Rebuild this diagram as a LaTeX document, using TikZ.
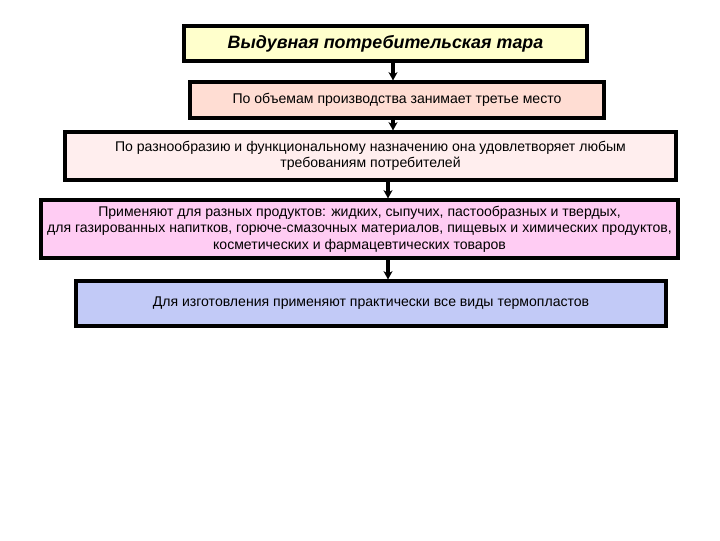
\documentclass[tikz,border=0pt]{standalone}
\usepackage{fontspec}
\setmainfont{Liberation Sans}
\usetikzlibrary{arrows.meta}

\definecolor{titleyellow}{HTML}{FFFFCC}
\definecolor{peach}{HTML}{FFDDD3}
\definecolor{palepink}{HTML}{FFEEEE}
\definecolor{lilac}{HTML}{FFCCF3}
\definecolor{periwinkle}{HTML}{C2CAF7}

\begin{document}
\begin{tikzpicture}[x=0.025cm,y=-0.025cm,->,>={Stealth[length=6pt,width=6.5pt]},
                    line width=2.2pt]
  \tikzset{box/.style={draw=black,line width=2.2pt,align=center,inner sep=0pt,
                       font=\fontsize{10}{11.7}\selectfont}}
	\useasboundingbox (0,0) rectangle (720,540);

	\node[box,fill=titleyellow,minimum width=403*0.025cm,minimum height=35*0.025cm,
	      font=\fontsize{12.7}{14}\selectfont\bfseries\itshape] (A) at (385.5,43.5) {Выдувная потребительская тара};
  \node[box,fill=peach,minimum width=414*0.025cm,minimum height=36*0.025cm] (B) at (397,100)
        {По объемам производства занимает третье место};
  \node[box,fill=palepink,minimum width=611*0.025cm,minimum height=48*0.025cm] (C) at (370.5,156)
        {По разнообразию и функциональному назначению она удовлетворяет любым \\ требованиям потребителей};
  \node[box,fill=lilac,minimum width=637*0.025cm,minimum height=58*0.025cm] (D) at (359.5,229)
        {Применяют для разных продуктов: жидких, сыпучих, пастообразных и твердых, \\
         для газированных напитков, горюче-смазочных материалов, пищевых и химических продуктов, \\
         косметических и фармацевтических товаров};
  \node[box,fill=periwinkle,minimum width=590*0.025cm,minimum height=45*0.025cm] (E) at (371,303.5)
        {Для изготовления применяют практически все виды термопластов};

	\draw ([xshift=7.5*0.025cm]A.south) -- ([xshift=7.5*0.025cm]A.south |- B.north);
	\draw ([xshift=-4*0.025cm]B.south) -- ([xshift=-4*0.025cm]B.south |- C.north);
	\draw ([xshift=17.5*0.025cm]C.south) -- ([xshift=17.5*0.025cm]C.south |- D.north);
	\draw ([xshift=28.5*0.025cm]D.south) -- ([xshift=28.5*0.025cm]D.south |- E.north);
	%\draw (E.south) -- ++(0,20);
\end{tikzpicture}
\end{document}
